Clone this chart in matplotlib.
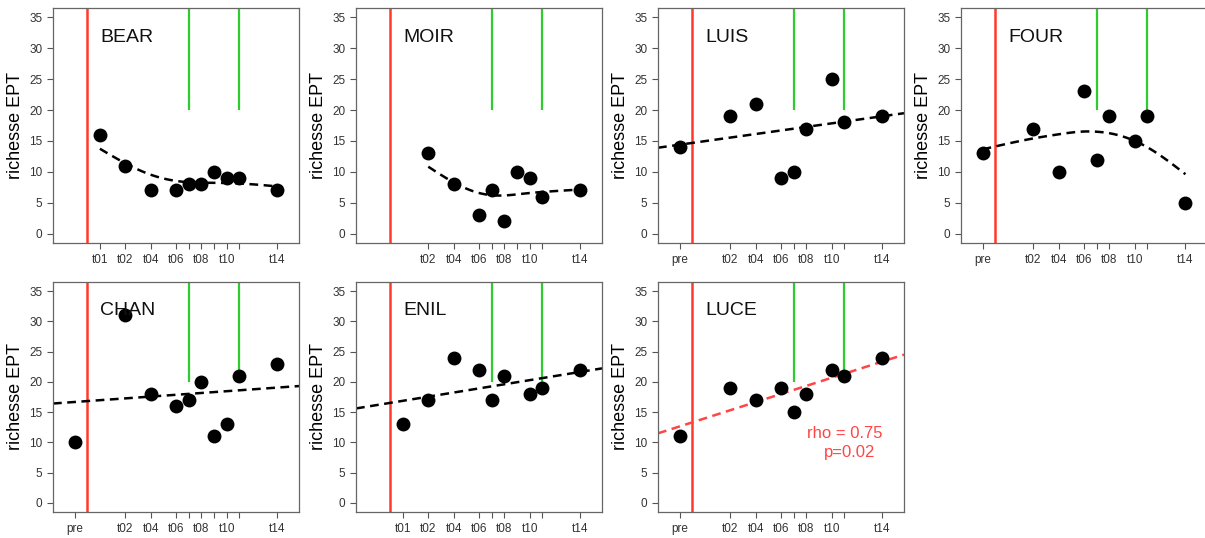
"""EPT richness per site over sampling campaigns."""

import matplotlib
matplotlib.use("Agg")
import matplotlib.pyplot as plt
import numpy as np

plt.rcParams["font.family"] = ["Liberation Sans", "DejaVu Sans"]

# x position of each campaign label (axis scale used by the original plot)
POS = {"pre": 0, "t01": 1, "t02": 2, "t04": 3, "t06": 4, "t07": 4.5,
       "t08": 5, "t09": 5.5, "t10": 6, "t11": 6.5, "t14": 8}
HIDDEN = {"t07", "t09", "t11"}  # ticks drawn but label dropped (overlap)

bear_t = ["t01", "t02", "t04", "t06", "t07", "t08", "t09", "t10", "t11", "t14"]
bear_y = [16, 11, 7, 7, 8, 8, 10, 9, 9, 7]

moir_t = ["t02", "t04", "t06", "t07", "t08", "t09", "t10", "t11", "t14"]
moir_y = [13, 8, 3, 7, 2, 10, 9, 6, 7]

luis_t = ["pre", "t02", "t04", "t06", "t07", "t08", "t10", "t11", "t14"]
luis_y = [14, 19, 21, 9, 10, 17, 25, 18, 19]

four_t = ["pre", "t02", "t04", "t06", "t07", "t08", "t10", "t11", "t14"]
four_y = [13, 17, 10, 23, 12, 19, 15, 19, 5]

chan_t = ["pre", "t02", "t04", "t06", "t07", "t08", "t09", "t10", "t11", "t14"]
chan_y = [10, 31, 18, 16, 17, 20, 11, 13, 21, 23]

enil_t = ["t01", "t02", "t04", "t06", "t07", "t08", "t10", "t11", "t14"]
enil_y = [13, 17, 24, 22, 17, 21, 18, 19, 22]

luce_t = ["pre", "t02", "t04", "t06", "t07", "t08", "t10", "t11", "t14"]
luce_y = [11, 19, 17, 19, 15, 18, 22, 21, 24]

sites = [
    ("BEAR", bear_t, bear_y, "smooth"),
    ("MOIR", moir_t, moir_y, "smooth"),
    ("LUIS", luis_t, luis_y, "lm"),
    ("FOUR", four_t, four_y, "smooth"),
    ("CHAN", chan_t, chan_y, "lm"),
    ("ENIL", enil_t, enil_y, "lm"),
    ("LUCE", luce_t, luce_y, "lm_sig"),
]

RED = "#ff3a2a"
GREEN = "#2ecc2e"
SIG = "#ff4545"


# ── smoothing spline (Reinsch form), 3 effective df ─────────────────────
def spline_mats(x):
    n = len(x)
    h = np.diff(x)
    Q = np.zeros((n, n - 2))
    R = np.zeros((n - 2, n - 2))
    for j in range(1, n - 1):
        Q[j - 1, j - 1] = 1 / h[j - 1]
        Q[j, j - 1] = -1 / h[j - 1] - 1 / h[j]
        Q[j + 1, j - 1] = 1 / h[j]
        R[j - 1, j - 1] = (h[j - 1] + h[j]) / 3
        if j < n - 2:
            R[j - 1, j] = R[j, j - 1] = h[j] / 6
    return Q, R


def smooth_spline(x, y, grid, df=3.0):
    Q, R = spline_mats(x)
    K = Q @ np.linalg.solve(R, Q.T)
    lo, hi = -6.0, 8.0
    for _ in range(60):  # bisect log(lambda) to hit the target df
        mid = (lo + hi) / 2
        S = np.linalg.inv(np.eye(len(x)) + 10 ** mid * K)
        if np.trace(S) > df:
            lo = mid
        else:
            hi = mid
    f = S @ y
    gam = np.zeros(len(x))
    gam[1:-1] = np.linalg.solve(R, Q.T @ f)
    out = []
    for t in grid:
        i = min(max(np.searchsorted(x, t) - 1, 0), len(x) - 2)
        h = x[i + 1] - x[i]
        a = (x[i + 1] - t) / h
        b = (t - x[i]) / h
        out.append(a * f[i] + b * f[i + 1]
                   - a * b * h * h / 6 * ((1 + a) * gam[i] + (1 + b) * gam[i + 1]))
    return np.array(out)


fig = plt.figure(figsize=(12.05, 5.38), dpi=100)
W, H = 1205, 538
lefts = [53, 356, 658, 961]
rows = [(8, 243), (282, 512)]

for i, (name, ts, ys, fit) in enumerate(sites):
    r, c = divmod(i, 4)
    top, bot = rows[r]
    ax = fig.add_axes([lefts[c] / W, 1 - bot / H, 246 / W, (bot - top) / H])
    xs = np.array([POS[t] for t in ts], float)
    ys = np.array(ys, float)

    ax.set_xlim(-0.85, 8.85)
    ax.set_ylim(-1.5, 36.5)

    ax.axvline(0.5, color=RED, lw=1.8, zorder=1)
    ax.vlines([4.5, 6.5], 20, 36.5, color=GREEN, lw=1.6, zorder=1)

    if fit == "smooth":
        grid = np.linspace(xs.min(), xs.max(), 120)
        ax.plot(grid, smooth_spline(xs, ys, grid), color="black", lw=1.8,
                dashes=(3.5, 2.2), zorder=2)
    else:
        slope, icpt = np.polyfit(xs, ys, 1)
        col = SIG if fit == "lm_sig" else "black"
        lx = np.array([-0.85, 8.85])
        ax.plot(lx, icpt + slope * lx, color=col, lw=1.8,
                dashes=(3.5, 2.2), zorder=2)

    ax.scatter(xs, ys, s=100, color="black", zorder=3, linewidths=0)

    ax.text(1, 31.8, name, fontsize=14, ha="left", va="center", color="#111")
    if fit == "lm_sig":
        ax.text(6.5, 11.4, "rho = 0.75", fontsize=12, ha="center",
                va="center", color=SIG)
        ax.text(6.7, 8.3, "p=0.02", fontsize=12, ha="center",
                va="center", color=SIG)

    ax.set_xticks(xs)
    ax.set_xticklabels(["" if t in HIDDEN else t for t in ts])
    ax.set_yticks(np.arange(0, 36, 5))
    ax.tick_params(axis="both", direction="out", length=4, width=0.8,
                   color="#555", labelcolor="#333", labelsize=8.5)
    ax.tick_params(axis="x", labelsize=8.5, pad=4)
    ax.set_ylabel("richesse EPT", fontsize=13, labelpad=4)
    for sp in ax.spines.values():
        sp.set_color("#666")
        sp.set_linewidth(0.9)

fig.savefig("out.png", dpi=100, facecolor="white")
